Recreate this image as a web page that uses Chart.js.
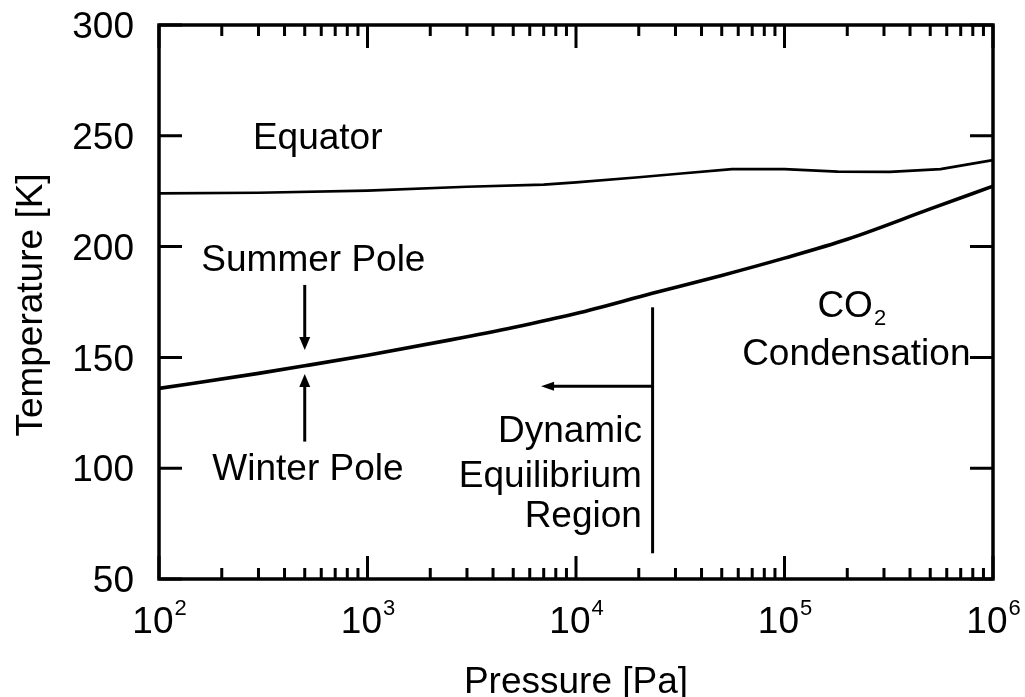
<!DOCTYPE html>
<html>
<head>
<meta charset="utf-8">
<title>Temperature vs Pressure</title>
<script src="https://cdn.jsdelivr.net/npm/chart.js@4.4.1/dist/chart.umd.min.js"></script>
<style>
  html, body { margin: 0; padding: 0; background: #fff; }
  #wrap { width: 1025px; height: 697px; }
</style>
</head>
<body>
<div id="wrap"><canvas id="tempChart" width="1025" height="697"></canvas></div>
<script>
// Equator profile
const equatorPressure = [100, 300, 1000, 3000, 7000, 1e4, 2e4, 3.2e4, 5.6e4, 1e5, 1.8e5, 3.2e5, 5.6e5, 1e6];
const equatorTemp = [224, 224.3, 225.3, 227, 228, 229, 231.3, 233, 235, 235, 233.8, 233.7, 235, 239];

// Summer / winter pole profile (the two lie on top of each other)
const polePressure = [100, 300, 500, 1000, 2500, 5000, 1e4, 2.3e4, 5e4, 1e5, 2e5, 5e5, 1e6];
const poleTemp = [136, 142.8, 146.2, 151, 157.9, 163.5, 169.8, 178.8, 187, 194.8, 203.3, 217, 227.3];

// Axis ticks
const xDecades = [1e2, 1e3, 1e4, 1e5, 1e6];
const xTickBase = "10";
const xTickExp = ["2", "3", "4", "5", "6"];
const xMinorSteps = [2, 3, 4, 5, 6, 7, 8, 9];
const yTicks = [50, 100, 150, 200, 250, 300];

const FONT = "'Liberation Sans', Arial, Helvetica, sans-serif";
Chart.defaults.font.family = FONT;
Chart.defaults.color = "#000";

function toPoints(xs, ys) {
    return xs.map((x, i) => ({ x: x, y: ys[i] }));
}

function arrow(ctx, x1, y1, x2, y2, len, half) {
    const ang = Math.atan2(y2 - y1, x2 - x1);
    ctx.beginPath();
    ctx.moveTo(x1, y1);
    ctx.lineTo(x2 - Math.cos(ang) * len * 0.8, y2 - Math.sin(ang) * len * 0.8);
    ctx.stroke();
    ctx.beginPath();
    ctx.moveTo(x2, y2);
    ctx.lineTo(x2 - Math.cos(ang) * len + Math.sin(ang) * half, y2 - Math.sin(ang) * len - Math.cos(ang) * half);
    ctx.lineTo(x2 - Math.cos(ang) * len - Math.sin(ang) * half, y2 - Math.sin(ang) * len + Math.cos(ang) * half);
    ctx.closePath();
    ctx.fill();
}

// Frame, inward ticks, power-of-ten labels, titles and annotations
const decorations = {
    id: "decorations",
    afterDraw(chart) {
        const ctx = chart.ctx;
        const area = chart.chartArea;
        const xs = chart.scales.x;
        const ys = chart.scales.y;
        const X = v => xs.getPixelForValue(v);
        const Y = v => ys.getPixelForValue(v);

        ctx.save();
        ctx.strokeStyle = "#000";
        ctx.fillStyle = "#000";
        ctx.lineCap = "butt";

        // ticks
        ctx.lineWidth = 3;
        ctx.beginPath();
        xDecades.forEach((d, i) => {
            const px = X(d);
            ctx.moveTo(px, area.top); ctx.lineTo(px, area.top + 23);
            ctx.moveTo(px, area.bottom); ctx.lineTo(px, area.bottom - 23);
            if (i < xDecades.length - 1) {
                xMinorSteps.forEach(m => {
                    const mx = X(d * m);
                    ctx.moveTo(mx, area.top); ctx.lineTo(mx, area.top + 11);
                    ctx.moveTo(mx, area.bottom); ctx.lineTo(mx, area.bottom - 11);
                });
            }
        });
        yTicks.forEach(t => {
            const py = Y(t);
            ctx.moveTo(area.left, py); ctx.lineTo(area.left + 23, py);
            ctx.moveTo(area.right, py); ctx.lineTo(area.right - 23, py);
        });
        ctx.stroke();

        // frame
        ctx.lineWidth = 3.5;
        ctx.strokeRect(area.left, area.top, area.right - area.left, area.bottom - area.top);

        // x tick labels 10^n
        ctx.textBaseline = "alphabetic";
        ctx.textAlign = "left";
        xDecades.forEach((d, i) => {
            ctx.font = "37px " + FONT;
            const wb = ctx.measureText(xTickBase).width;
            ctx.font = "22px " + FONT;
            const we = ctx.measureText(xTickExp[i]).width;
            const x0 = X(d) - (wb + we) / 2;
            ctx.font = "37px " + FONT;
            ctx.fillText(xTickBase, x0, 633);
            ctx.font = "22px " + FONT;
            ctx.fillText(xTickExp[i], x0 + wb + 1, 615);
        });

        // axis titles
        ctx.font = "37px " + FONT;
        ctx.textAlign = "center";
        ctx.fillText("Pressure [Pa]", (area.left + area.right) / 2, 693);
        ctx.save();
        ctx.translate(42, 305);
        ctx.rotate(-Math.PI / 2);
        ctx.fillText("Temperature [K]", 0, 0);
        ctx.restore();

        // labels inside the plot
        ctx.fillText("Equator", X(577), Y(243.9));
        ctx.fillText("Summer Pole", X(550), Y(189.1));
        ctx.fillText("Winter Pole", X(518), Y(94.7));
        ctx.fillText("Condensation", X(2.21e5), Y(146.6));

        // CO2 with subscript
        ctx.font = "37px " + FONT;
        const wCO = ctx.measureText("CO").width;
        ctx.font = "22px " + FONT;
        const w2 = ctx.measureText("2").width;
        const cx = X(2.09e5) - (wCO + w2) / 2;
        ctx.textAlign = "left";
        ctx.font = "37px " + FONT;
        ctx.fillText("CO", cx, Y(168.1));
        ctx.font = "22px " + FONT;
        ctx.fillText("2", cx + wCO + 1, Y(168.1) + 8);

        ctx.font = "37px " + FONT;
        ctx.textAlign = "right";
        ctx.fillText("Dynamic", X(2.07e4), Y(111.7));
        ctx.fillText("Equilibrium", X(2.07e4), Y(91.7));
        ctx.fillText("Region", X(2.07e4), Y(73.6));

        // arrows to the pole curve
        ctx.lineWidth = 3;
        arrow(ctx, X(500), Y(182.7), X(500), Y(153.3), 13, 5.5);
        arrow(ctx, X(500), Y(112), X(500), Y(142.5), 13, 5.5);

        // dynamic equilibrium boundary and arrow
        ctx.beginPath();
        ctx.moveTo(X(2.33e4), Y(172.6));
        ctx.lineTo(X(2.33e4), Y(61.6));
        ctx.stroke();
        arrow(ctx, X(2.33e4), Y(137), X(6.8e3), Y(137), 13, 4.5);

        ctx.restore();
    }
};

new Chart(document.getElementById("tempChart"), {
    type: "line",
    data: {
        datasets: [
            {
                label: "Equator",
                data: toPoints(equatorPressure, equatorTemp),
                borderColor: "#000",
                borderWidth: 2.7,
                pointRadius: 0,
                tension: 0
            },
            {
                label: "Summer / Winter Pole",
                data: toPoints(polePressure, poleTemp),
                borderColor: "#000",
                borderWidth: 3.6,
                pointRadius: 0,
                cubicInterpolationMode: "monotone"
            }
        ]
    },
    options: {
        responsive: false,
        animation: false,
        layout: { padding: { top: 25, right: 32, left: 0, bottom: 0 } },
        plugins: {
            legend: { display: false },
            tooltip: { enabled: false }
        },
        scales: {
            x: {
                type: "logarithmic",
                min: 1e2,
                max: 1e6,
                grid: { display: false, drawTicks: false },
                border: { display: false },
                ticks: { display: false },
                afterFit: scale => {
                    scale.height = 118;
                    scale.paddingLeft = 0;
                    scale.paddingRight = 0;
                }
            },
            y: {
                type: "linear",
                min: 50,
                max: 300,
                grid: { display: false, drawTicks: false },
                border: { display: false },
                ticks: {
                    stepSize: 50,
                    padding: 25,
                    labelOffset: 3,
                    font: { size: 37 },
                    color: "#000"
                },
                afterFit: scale => {
                    scale.width = 159;
                    scale.paddingTop = 0;
                    scale.paddingBottom = 0;
                }
            }
        }
    },
    plugins: [decorations]
});
</script>
</body>
</html>
